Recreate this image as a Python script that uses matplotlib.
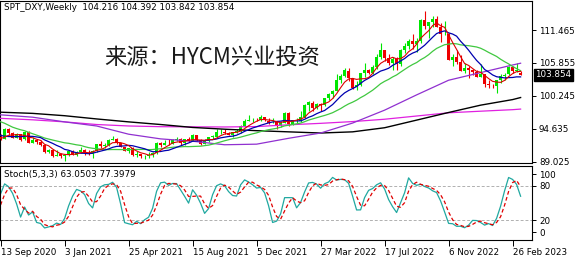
"""SPT_DXY weekly candles + MAs + Stoch(5,3,3), MT4 style."""
import numpy as np
import matplotlib
matplotlib.use('Agg')
import matplotlib.pyplot as plt

# weekly bars, first bar = 13 Sep 2020, last = 12 Mar 2023
opens = [93.30, 92.90, 94.60, 93.85, 93.05, 93.70, 92.80, 94.05, 92.20, 92.75,
         92.40, 91.80, 90.70, 90.98, 90.00, 90.25, 89.94, 90.10, 90.80, 90.20,
         90.60, 91.00, 90.45, 90.30, 90.90, 92.00, 91.67, 91.85, 92.75, 92.95,
         92.15, 91.55, 90.80, 91.28, 90.20, 90.30, 90.00, 90.00, 90.10, 90.50,
         92.20, 91.85, 92.20, 92.10, 92.70, 92.90, 92.20, 92.80, 92.50, 93.50,
         92.65, 92.05, 92.60, 93.20, 93.30, 94.00, 94.10, 93.95, 93.60, 94.10,
         94.30, 95.10, 96.00, 96.10, 96.20, 96.10, 96.60, 96.00, 95.70, 95.75,
         95.20, 95.65, 97.30, 95.50, 96.05, 96.00, 96.60, 98.70, 99.10, 98.20,
         98.80, 98.60, 99.80, 100.50, 101.10, 103.00, 103.70, 104.50, 103.20, 101.70,
         102.10, 104.20, 104.70, 104.20, 105.10, 106.90, 108.00, 106.70, 105.85, 106.60,
         105.60, 108.10, 108.80, 109.60, 109.00, 109.60, 113.20, 112.10, 112.80, 113.30,
         112.00, 110.80, 110.80, 106.30, 106.90, 106.00, 104.50, 105.00, 104.70, 104.30,
         103.50, 103.90, 102.20, 102.00, 101.90, 102.90, 103.60, 103.90, 105.20, 104.50,
         104.216]
highs = [93.66, 94.74, 94.75, 94.05, 93.91, 93.75, 94.19, 94.30, 93.21, 92.80,
         92.66, 91.93, 91.20, 91.00, 91.02, 90.50, 90.20, 90.97, 90.95, 90.90,
         91.60, 91.10, 91.00, 91.00, 92.00, 92.50, 92.15, 92.90, 93.44, 93.00,
         92.25, 91.60, 91.30, 91.44, 90.90, 90.40, 90.20, 90.60, 90.60, 92.40,
         92.40, 92.74, 92.80, 92.90, 93.20, 93.00, 92.90, 93.20, 93.70, 93.60,
         92.80, 92.90, 93.30, 93.50, 94.50, 94.50, 94.56, 94.00, 94.00, 94.60,
         95.26, 96.24, 96.90, 96.50, 96.40, 96.90, 96.70, 96.40, 96.50, 96.00,
         95.90, 97.40, 97.40, 96.10, 96.40, 97.70, 98.93, 99.40, 99.30, 99.00,
         99.10, 99.90, 100.75, 101.30, 103.90, 104.00, 105.00, 105.00, 103.30, 102.70,
         104.20, 105.80, 104.90, 105.50, 107.30, 109.30, 108.00, 107.40, 106.90, 106.90,
         108.20, 109.30, 110.00, 110.80, 110.10, 113.30, 114.78, 112.80, 113.90, 113.90,
         112.60, 113.00, 111.00, 107.30, 107.99, 107.20, 105.80, 105.30, 104.90, 104.60,
         105.60, 103.90, 102.90, 102.20, 103.00, 103.96, 104.10, 105.30, 105.35, 105.90,
         104.392]
lows = [92.70, 92.85, 93.57, 92.97, 92.99, 92.47, 92.78, 92.13, 92.13, 92.03,
        91.75, 90.50, 90.42, 89.73, 89.95, 89.66, 89.21, 89.90, 90.13, 89.95,
        90.42, 90.21, 90.10, 89.68, 90.63, 91.37, 91.30, 91.77, 92.66, 91.99,
        91.58, 90.86, 90.42, 89.98, 89.86, 89.65, 89.53, 89.66, 89.80, 90.40,
        91.50, 91.80, 91.90, 92.00, 92.50, 91.80, 91.80, 92.40, 92.50, 92.60,
        91.90, 92.00, 92.30, 92.90, 93.20, 93.80, 93.70, 93.50, 93.30, 93.90,
        93.90, 95.00, 95.90, 95.80, 95.90, 95.90, 95.95, 95.50, 95.60, 94.63,
        95.00, 95.60, 95.14, 95.20, 95.60, 95.70, 96.40, 97.70, 97.70, 98.00,
        97.70, 98.50, 99.60, 99.80, 101.00, 102.40, 103.40, 102.70, 101.40, 101.30,
        102.00, 103.40, 103.90, 103.90, 104.90, 106.50, 106.10, 105.50, 104.60, 104.60,
        105.30, 107.60, 108.30, 108.30, 107.70, 109.30, 111.60, 110.05, 112.00, 111.90,
        109.50, 110.60, 106.27, 105.30, 105.60, 104.40, 104.10, 103.30, 103.80, 103.40,
        103.40, 101.80, 101.50, 101.50, 100.80, 102.50, 102.90, 103.80, 104.10, 104.30,
        103.842]
closes = [92.93, 94.64, 93.85, 93.06, 93.68, 92.77, 94.04, 92.23, 92.76, 92.39,
          91.79, 90.70, 90.98, 90.02, 90.23, 89.94, 90.10, 90.77, 90.23, 90.58,
          91.04, 90.48, 90.36, 90.88, 91.98, 91.68, 91.86, 92.77, 92.95, 92.17,
          91.56, 90.84, 91.28, 90.22, 90.31, 90.02, 90.03, 90.13, 90.55, 92.23,
          91.84, 92.23, 92.12, 92.69, 92.90, 92.17, 92.80, 92.52, 93.50, 92.68,
          92.04, 92.58, 93.20, 93.33, 94.04, 94.07, 93.96, 93.64, 94.12, 94.32,
          95.12, 96.03, 96.08, 96.16, 96.13, 96.58, 96.04, 95.67, 95.73, 95.18,
          95.64, 97.28, 95.48, 96.04, 96.05, 96.61, 98.66, 99.13, 98.23, 98.80,
          98.60, 99.81, 100.50, 101.12, 103.00, 103.66, 104.56, 103.20, 101.66, 102.14,
          104.15, 104.67, 104.20, 105.14, 106.90, 107.98, 106.72, 105.84, 106.60, 105.63,
          108.14, 108.82, 109.63, 109.00, 109.63, 113.19, 112.12, 112.76, 113.31, 111.99,
          110.75, 110.81, 106.28, 106.93, 106.01, 104.54, 104.96, 104.69, 104.31, 103.52,
          103.89, 102.20, 102.02, 101.92, 102.92, 103.63, 103.86, 105.21, 104.52, 104.58,
          103.854]

# weeks before the first bar (needed by the MAs and the stochastic)
pre_close = [99.74, 100.39, 99.87, 98.34, 96.94, 97.33, 97.62, 97.43, 97.17, 96.65,
             95.91, 94.44, 93.35, 93.42, 93.10, 93.24, 92.37, 92.79, 93.33]
pre_high = [96.00, 94.60, 93.70, 93.65, 93.30, 93.50, 93.20, 93.66]
pre_low = [94.37, 92.55, 92.50, 92.85, 92.12, 92.20, 91.75, 92.75]

# long MAs (50 / 100 / 200 weeks)
ma_bars = [0, 8, 16, 24, 32, 40, 48, 56, 64, 72, 80, 88, 96, 104, 112, 120, 128, 130]
ma50 = [97.0, 96.6, 95.8, 95.1, 93.7, 92.9, 92.5, 91.9, 92.0, 93.0,
        93.9, 95.6, 97.8, 100.4, 102.9, 104.2, 105.5, 105.8]
ma100 = [97.45, 97.25, 96.85, 96.3, 95.8, 95.35, 94.85, 94.55, 94.3, 94.1,
         93.9, 94.1, 94.8, 96.1, 97.4, 98.65, 99.6, 99.95]
ma200 = [96.4, 96.15, 95.8, 95.35, 95.1, 94.98, 94.95, 94.93, 95.0, 95.3,
         95.55, 95.85, 96.25, 96.8, 97.35, 97.62, 97.88, 97.98]

# values printed in the stochastic header
stoch_main = 63.0503
stoch_signal = 77.3979

price_ticks = [111.465, 105.855, 100.245, 94.635, 89.025]
date_bars = [0, 16, 32, 48, 64, 80, 96, 112, 128]
date_labels = ["13 Sep 2020", "3 Jan 2021", "25 Apr 2021", "15 Aug 2021", "5 Dec 2021",
               "27 Mar 2022", "17 Jul 2022", "6 Nov 2022", "26 Feb 2023"]

o = np.array(opens); h = np.array(highs); l = np.array(lows); c = np.array(closes)
n = len(c)
x = np.arange(n)

all_c = np.array(pre_close + closes)
off = len(pre_close)


def sma(arr, p):
    return np.array([arr[off + i - p + 1: off + i + 1].mean() for i in range(n)])


ma5 = sma(all_c, 5)
ma10 = sma(all_c, 10)
ma20 = sma(all_c, 20)

# Stochastic 5,3,3 (MT4 style slowing)
sh = np.array(pre_high + highs)
sl = np.array(pre_low + lows)
sc = all_c[-len(sh):]
m = len(sh)
num = np.full(m, np.nan); den = np.full(m, np.nan)
for i in range(4, m):
    ll = sl[i - 4:i + 1].min(); hh = sh[i - 4:i + 1].max()
    num[i] = sc[i] - ll; den[i] = hh - ll
k = np.full(m, np.nan)
for i in range(6, m):
    k[i] = 100 * num[i - 2:i + 1].sum() / den[i - 2:i + 1].sum()
d = np.full(m, np.nan)
for i in range(8, m):
    d[i] = k[i - 2:i + 1].mean()
po = len(pre_high)
k = k[po:]; d = d[po:]

W, H = 578, 260
fig = plt.figure(figsize=(W / 100, H / 100), dpi=100)
ax = fig.add_axes([0, 1 - 163 / H, 532 / W, 162.5 / H])
ax2 = fig.add_axes([0, 1 - 240 / H, 532 / W, 74 / H])

bull = c >= o
cols = np.where(bull, '#00e600', '#ee0000')
ax.vlines(x, l, h, colors=cols, linewidth=0.8, zorder=2)
body = np.maximum(np.abs(c - o), 0.06)
ax.bar(x, body, bottom=np.minimum(o, c), width=0.72, color=cols, linewidth=0, zorder=3)

ax.plot(ma_bars, ma200, color='#e020e0', lw=0.9, zorder=4)
ax.plot(ma_bars, ma100, color='black', lw=1.0, zorder=4)
ax.plot(ma_bars, ma50, color='#9030d0', lw=0.9, zorder=4)
ax.plot(x, ma20, color='#40c840', lw=0.9, zorder=4)
ax.plot(x, ma10, color='#0000b0', lw=0.9, zorder=4)
ax.plot(x, ma5, color='#dd0000', lw=0.8, zorder=4)

ax.set_xlim(-0.15, 132.85)
ax.set_ylim(111.465 - 133 / 5.865, 111.465 + 29.5 / 5.865)
ax.set_xticks([])
ax.yaxis.tick_right()
ax.set_yticks(price_ticks)
ax.set_yticklabels(["%.3f" % v for v in price_ticks])
ax.tick_params(axis='y', length=3, width=0.7, labelsize=6.3, pad=2)
for s in ax.spines.values():
    s.set_linewidth(0.8)

ax.text(4, 0.955, "SPT_DXY,Weekly  %.3f %.3f %.3f %.3f" % (opens[-1], highs[-1], lows[-1], closes[-1]),
        transform=matplotlib.transforms.blended_transform_factory(
            matplotlib.transforms.IdentityTransform(), ax.transAxes),
        fontsize=6.3, va='center', ha='left')
ax.text(104 / 532, 1 - 57 / 162.5, "来源：HYCM兴业投资", transform=ax.transAxes,
        family=['Noto Sans CJK SC', 'DejaVu Sans'], fontsize=16, color='#1a1a1a',
        va='center', ha='left')
ax.annotate("%.3f" % closes[-1], xy=(1.0, closes[-1]), xycoords=('axes fraction', 'data'),
            xytext=(2.5, 0), textcoords='offset points', va='center', ha='left',
            fontsize=6.3, color='white',
            bbox=dict(boxstyle='square,pad=0.18', fc='black', ec='black'))

# stochastic panel
ax2.axhline(80, color='#b0b0b0', lw=0.7, ls=(0, (3, 2)))
ax2.axhline(20, color='#b0b0b0', lw=0.7, ls=(0, (3, 2)))
ax2.plot(x, k, color='#20a8a0', lw=0.9)
ax2.plot(x, d, color='#e00000', lw=0.9, ls=(0, (3, 2)))
ax2.set_xlim(-0.15, 132.85)
ax2.set_ylim(-8 / 0.58, 100 + 8 / 0.58)
ax2.yaxis.tick_right()
ax2.set_yticks([0, 20, 80, 100])
ax2.set_yticklabels(['0', '20', '80', '100'])
ax2.tick_params(axis='y', length=3, width=0.7, labelsize=6.3, pad=2)
ax2.set_xticks(date_bars)
ax2.set_xticklabels(date_labels, ha='left')
ax2.tick_params(axis='x', length=4, width=0.7, labelsize=6.3, pad=1.5)
for s in ax2.spines.values():
    s.set_linewidth(0.8)
ax2.text(4 / 532, 0.89, "Stoch(5,3,3) %.4f %.4f" % (stoch_main, stoch_signal), transform=ax2.transAxes,
         fontsize=6.3, va='center', ha='left')

fig.savefig('out.png', dpi=100)
plt.close()
